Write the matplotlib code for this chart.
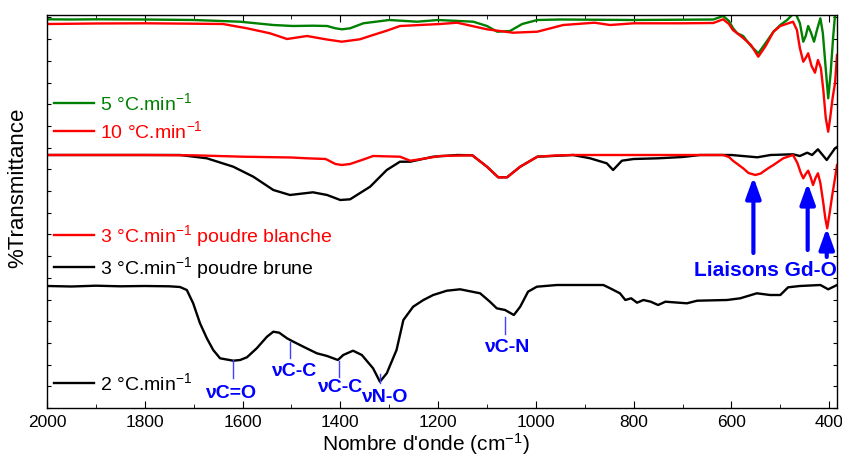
import matplotlib
matplotlib.use("Agg")
import matplotlib.pyplot as plt
from matplotlib.ticker import MultipleLocator

plt.rcParams['font.family'] = ['Liberation Sans', 'DejaVu Sans']
plt.rcParams['mathtext.fontset'] = 'custom'
plt.rcParams['mathtext.rm'] = 'Liberation Sans'
plt.rcParams['mathtext.it'] = 'Liberation Sans:italic'
plt.rcParams['mathtext.bf'] = 'Liberation Sans:bold'

# ---- data (wavenumber cm-1, offset transmittance a.u.) ----
w_5 = [2000, 1950, 1900, 1800, 1700, 1605, 1537, 1497, 1456, 1427, 1410, 1397, 1380, 1353, 1300,
       1243, 1200, 1128, 1100, 1079, 1053, 1028, 997, 950, 800, 700, 637, 617, 605, 597, 588, 576, 560,
       545, 530, 514, 500, 486, 470, 460, 453, 448, 443, 437, 431, 425, 418, 413, 408, 402, 397, 392, 388, 384]
t_5 = [388.7, 388.5, 388.7, 388.5, 388, 386.3, 383, 382, 382.3, 382, 379.7, 378.7, 379.7, 384.7, 388,
       386.3, 388, 386.3, 382, 376.3, 377, 384, 388, 388.5, 388, 388.3, 388.5, 392, 387, 380, 374.7, 372, 362,
       354.7, 365, 376.3, 383, 388, 396, 385, 366.3, 372, 382, 375, 366.3, 378, 389.7, 375, 345, 309.7, 335, 370, 393, 398]

w_10 = [2000, 1900, 1800, 1700, 1640, 1591, 1544, 1509, 1468, 1430, 1397, 1360, 1333, 1305, 1278,
        1196, 1161, 1100, 1047, 997, 944, 880, 848, 800, 700, 637, 617, 605, 597, 588, 576, 560, 545, 530,
        514, 500, 474, 466, 460, 453, 448, 443, 436, 429, 423, 417, 412, 407, 402, 398, 393, 388, 384]
t_10 = [384, 384.5, 384.7, 384.3, 384, 379.7, 374.7, 369, 372, 368.7, 366.3, 368.7, 373, 377.3, 382,
        384, 385.3, 378.7, 375.3, 376.3, 383, 385.3, 383, 384.7, 384.7, 385, 388.7, 384, 378, 374.7, 370, 363, 351.3, 362,
        376.3, 382, 386.3, 378, 360, 346.3, 350, 354.7, 342, 335.3, 348, 340, 318, 290, 276.3, 290, 310, 325, 353]

w_3b = [2000, 1900, 1800, 1700, 1600, 1500, 1468, 1430, 1410, 1397, 1380, 1350, 1333, 1278, 1257,
        1240, 1196, 1130, 1100, 1077, 1059, 1032, 997, 960, 924, 800, 700, 617, 605, 597, 585, 576, 565,
        551, 540, 535, 524, 514, 494, 474, 465, 458, 453, 448, 443, 438, 433, 428, 423, 418, 412, 408,
        404, 399, 394, 388, 384]
t_3b = [253, 253, 253, 252.7, 251.3, 250.5, 249.7, 249, 244, 243, 244, 249, 252, 251.3, 247.3,
        248.5, 252, 252.7, 241.3, 230.7, 230.7, 241.3, 251.3, 252.5, 253, 253, 253, 253, 251, 247.3, 243, 239.7, 235,
        233, 234.5, 236.3, 240, 243, 249.7, 253, 245, 235, 229.7, 234, 237.3, 231, 223, 230, 234.7, 225, 205, 190,
        179.7, 195, 212, 230, 243]

w_3n = [2000, 1900, 1800, 1728, 1673, 1619, 1578, 1537, 1503, 1456, 1427, 1400, 1380, 1339, 1305,
        1278, 1257, 1210, 1160, 1130, 1100, 1077, 1059, 1032, 997, 924, 889, 855, 842, 824, 800,
        750, 700, 664, 600, 547, 520, 474, 460, 445, 435, 423, 405, 388, 384]
t_3n = [253, 253, 253, 253, 249.7, 241.3, 231.3, 218, 213, 215.7, 213, 208, 208.7, 221.3, 238,
        246.3, 246.3, 251.3, 253, 252.7, 241.3, 230.7, 230.7, 241.3, 251.3, 253, 249.7, 244.7, 238, 247.3, 249,
        249.7, 251, 253, 253, 250.7, 253, 253.7, 252, 255.3, 253, 258.7, 248, 259.7, 261]

w_2 = [2000, 1950, 1900, 1850, 1800, 1750, 1728, 1714, 1701, 1687, 1673, 1660, 1646, 1619, 1605,
       1591, 1571, 1550, 1537, 1525, 1509, 1496, 1469, 1448, 1427, 1405, 1394, 1374, 1356, 1333,
       1319, 1305, 1285, 1271, 1251, 1230, 1210, 1182, 1155, 1114, 1094, 1080, 1063, 1045, 1032,
       1016, 998, 957, 900, 862, 848, 828, 817, 805, 793, 780, 765, 750, 735, 691, 670, 609, 582,
       548, 521, 500, 484, 460, 418, 402, 388, 384]
t_2 = [122, 121.5, 122.3, 121.7, 122, 121.7, 121, 118, 104.7, 84.7, 69.7, 58, 49.7, 47.3, 48,
       50.7, 59.7, 71.3, 76.3, 75.3, 69.7, 66.3, 59.7, 54.7, 52, 48, 53, 57.3, 53, 39.7,
       26.3, 34.7, 58, 88, 101.3, 108, 113, 117.3, 118.7, 114.7, 106.3, 99.7, 98, 93, 101.3,
       116.3, 121.3, 123, 123, 123, 119.7, 114.7, 108, 109.7, 105.3, 108, 106.3, 103, 106.3, 104.7, 107.3, 108, 109.7,
       114.7, 113, 113, 120.7, 122, 123, 118.7, 122, 123]

labels_top = ['5 °C.min$^{-1}$', '10 °C.min$^{-1}$']
labels_mid = ['3 °C.min$^{-1}$ poudre blanche', '3 °C.min$^{-1}$ poudre brune']
labels_bot = ['2 °C.min$^{-1}$']

# band assignments: (label, wavenumber, line bottom, line top, text y, text x)
bands = [('νC=O', 1620, 30, 48, 15, 1625),
         ('νC-C', 1502, 50, 66, 37, 1495),
         ('νC-C', 1402, 31, 47, 21, 1402),
         ('νN-O', 1319, 25, 34, 11, 1311),
         ('νC-N', 1063, 74, 91, 60, 1059)]
# Gd-O arrows: (wavenumber, tail, head)
gd_arrows = [(555, 155, 231), (444, 158, 225), (405, 151, 180)]

GREEN = '#008000'
RED = '#ff0000'
BLACK = '#000000'
BLUE = '#0000ff'

fig = plt.figure(figsize=(8.42, 4.59), dpi=100)
ax = fig.add_axes([47/842, 51/459, 790/842, 393/459])

lw = 1.7
l5, = ax.plot(w_5, t_5, color=GREEN, lw=lw)
l10, = ax.plot(w_10, t_10, color=RED, lw=lw)
l3n, = ax.plot(w_3n, t_3n, color=BLACK, lw=lw)
l3b, = ax.plot(w_3b, t_3b, color=RED, lw=lw)
l2, = ax.plot(w_2, t_2, color=BLACK, lw=lw)

ax.set_xlim(2000, 384)
ax.set_ylim(0, 393)
ax.xaxis.set_major_locator(MultipleLocator(200))
ax.xaxis.set_minor_locator(MultipleLocator(100))
ax.yaxis.set_major_locator(MultipleLocator(21.7))
ax.tick_params(axis='both', which='both', direction='in', top=True, right=True)
ax.tick_params(axis='x', which='major', length=5, labelsize=12.5, pad=5)
ax.tick_params(axis='x', which='minor', length=3)
ax.tick_params(axis='y', which='major', length=3, labelleft=False)
for s in ax.spines.values():
    s.set_linewidth(1.0)

ax.set_xlabel("Nombre d'onde (cm$^{-1}$)", fontsize=15)
ax.xaxis.set_label_coords(0.48, -0.058)
ax.set_ylabel('%Transmittance', fontsize=16)
ax.yaxis.set_label_coords(-0.024, 0.56)

leg_kw = dict(frameon=False, handlelength=2.05, handletextpad=0.3, borderpad=0, borderaxespad=0,
              fontsize=14, labelcolor='linecolor', loc='center left', labelspacing=0.3)
leg1 = ax.legend([l5, l10], labels_top, bbox_to_anchor=(0.009, 0.74), **leg_kw)
ax.add_artist(leg1)
leg2 = ax.legend([l3b, l3n], labels_mid, bbox_to_anchor=(0.009, 0.397), **leg_kw)
ax.add_artist(leg2)
leg3 = ax.legend([l2], labels_bot, bbox_to_anchor=(0.009, 0.064), **leg_kw)

for lab, wn, y0, y1, ty, tx in bands:
    ax.plot([wn, wn], [y0, y1], color='#4040ff', lw=1.0)
    ax.text(tx, ty, lab, color=BLUE, fontsize=14, fontweight='bold', ha='center', va='center')

for wn, tail, head in gd_arrows:
    ax.annotate('', xy=(wn, head), xytext=(wn, tail),
                arrowprops=dict(arrowstyle='-|>,head_length=0.5,head_width=0.18', color=BLUE,
                                lw=3, mutation_scale=25, shrinkA=0, shrinkB=0))
ax.text(531, 138, 'Liaisons Gd-O', color=BLUE, fontsize=15, fontweight='bold', ha='center', va='center')

fig.savefig('out.png', dpi=100)
